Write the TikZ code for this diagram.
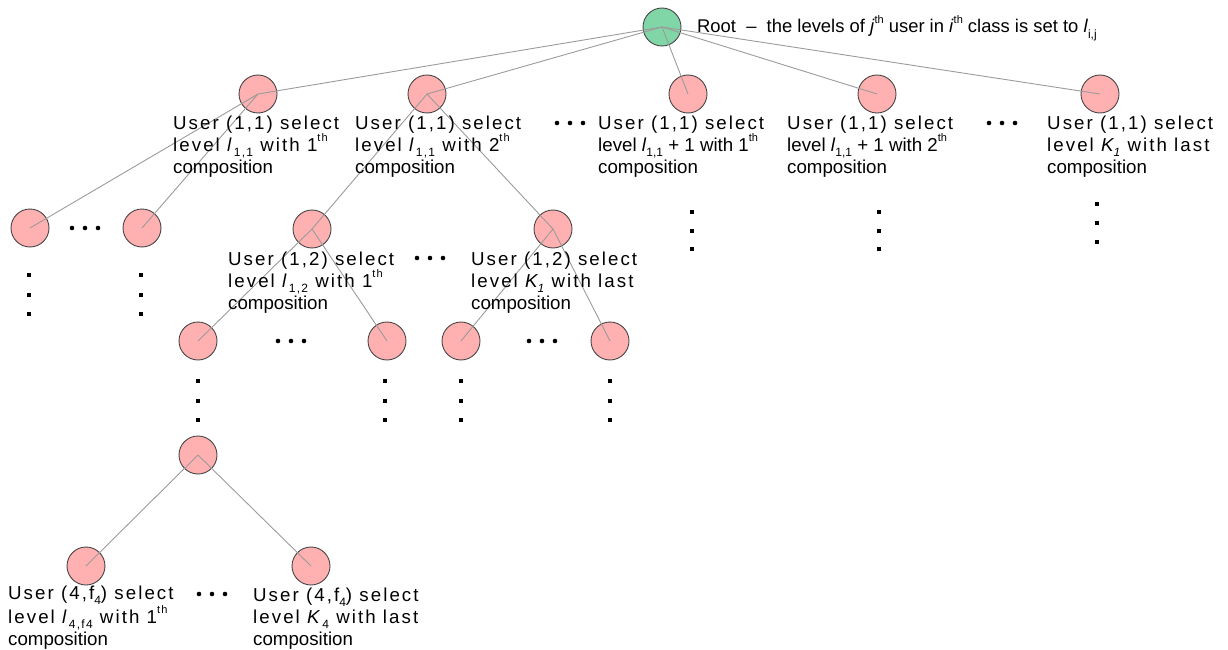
\documentclass[tikz,border=0pt]{standalone}
\usepackage{fontspec}
\setmainfont{Liberation Sans}
\newfontfamily\spaced[LetterSpace=11]{Liberation Sans}
\newcommand\sbs[1]{\raisebox{-0.28em}{\fontsize{12}{12}\selectfont #1}}
\newcommand\sps[1]{\raisebox{0.5em}{\fontsize{11}{11}\selectfont #1}}
\definecolor{pinkfill}{RGB}{255,176,176}
\definecolor{greenfill}{RGB}{128,214,166}
\definecolor{nodeline}{RGB}{70,70,70}
\definecolor{edgegray}{RGB}{155,155,155}
\tikzset{
  pnode/.style={circle,draw=nodeline,fill=pinkfill,line width=0.9pt,minimum size=38pt,inner sep=0pt},
  gnode/.style={circle,draw=nodeline,fill=greenfill,line width=0.9pt,minimum size=38pt,inner sep=0pt},
  edge/.style={draw=edgegray,line width=0.9pt},
  lbl/.style={anchor=base west,align=left,inner sep=0pt,font=\fontsize{18.7}{22}\selectfont},
}
\newcommand\hdotsat[2]{\foreach \dx in {-13,0,13}{\fill ({#1+\dx},#2) circle (2.3pt);}}
\newcommand\vdotsat[4]{\foreach \yy in {#2,#3,#4}{\fill ({#1-2},{\yy-2}) rectangle ({#1+2},{\yy+2});}}
\begin{document}
\begin{tikzpicture}[x=1pt,y=-1pt]
\useasboundingbox (0,0) rectangle (1228,650);
% nodes
\node[gnode] (root) at (662,27) {};
\node[pnode] (a1) at (258,94) {};
\node[pnode] (a2) at (427,94) {};
\node[pnode] (a3) at (688,94) {};
\node[pnode] (a4) at (877,94) {};
\node[pnode] (a5) at (1100,94) {};
\node[pnode] (b1) at (30,228) {};
\node[pnode] (b2) at (142,228) {};
\node[pnode] (c1) at (312,229) {};
\node[pnode] (c2) at (553,229) {};
\node[pnode] (d1) at (198,341) {};
\node[pnode] (d2) at (387,341) {};
\node[pnode] (d3) at (461,341) {};
\node[pnode] (d4) at (610,341) {};
\node[pnode] (e) at (198,455) {};
\node[pnode] (f1) at (86,566) {};
\node[pnode] (f2) at (311,566) {};
% edges (drawn over nodes, centre to centre)
\foreach \t in {a1,a2,a3,a4,a5}{\draw[edge] (root.center) -- (\t.center);}
\draw[edge] (a1.center) -- (b1.center);
\draw[edge] (a1.center) -- (b2.center);
\draw[edge] (a2.center) -- (c1.center);
\draw[edge] (a2.center) -- (c2.center);
\draw[edge] (c1.center) -- (d1.center);
\draw[edge] (c1.center) -- (d2.center);
\draw[edge] (c2.center) -- (d3.center);
\draw[edge] (c2.center) -- (d4.center);
\draw[edge] (e.center) -- (f1.center);
\draw[edge] (e.center) -- (f2.center);
% labels
\node[anchor=base west,inner sep=0pt,font=\fontsize{18.4}{20}\selectfont] (rootlbl) at (697,33)
  {Root\ \ --\ \ the levels of \textit{j}\sps{th} user in \textit{i}\sps{th} class is set to \textit{l}\sbs{i,j}};
\node[lbl] (la1) at (173,173) {{\spaced User (1,1) select}\\{\spaced level \textit{l}\sbs{1,1} with 1\sps{th}}\\composition};
\node[lbl] (la2) at (355,173) {{\spaced User (1,1) select}\\{\spaced level \textit{l}\sbs{1,1} with 2\sps{th}}\\composition};
\node[lbl] (la3) at (598,173) {{\spaced User (1,1) select}\\level \textit{l}\sbs{1,1} + 1 with 1\sps{th}\\composition};
\node[lbl] (la4) at (787,173) {{\spaced User (1,1) select}\\level \textit{l}\sbs{1,1} + 1 with 2\sps{th}\\composition};
\node[lbl] (la5) at (1047,173) {{\spaced User (1,1) select}\\{\spaced level \textit{K\sbs{1}} with last}\\composition};
\node[lbl] (lc1) at (228,309) {{\spaced User (1,2) select}\\{\spaced level \textit{l}\sbs{1,2} with 1\sps{th}}\\composition};
\node[lbl] (lc2) at (471,309) {{\spaced User (1,2) select}\\{\spaced level \textit{K\sbs{1}} with last}\\composition};
\node[lbl] (lf1) at (8,645) {{\spaced User (4,f\sbs{4}) select}\\{\spaced level \textit{l}\sbs{4,f4} with 1\sps{th}}\\composition};
\node[lbl] (lf2) at (253,645) {{\spaced User (4,f\sbs{4}) select}\\{\spaced level \textit{K}\sbs{4} with last}\\composition};
% ellipsis dots
\hdotsat{85}{228}
\hdotsat{570}{123}
\hdotsat{1002}{123}
\hdotsat{430}{258}
\hdotsat{291}{341}
\hdotsat{542}{341}
\hdotsat{212}{594}
\vdotsat{29}{275}{295}{314}
\vdotsat{141}{275}{295}{314}
\vdotsat{692}{212}{231}{249}
\vdotsat{879}{212}{231}{249}
\vdotsat{1097}{204}{223}{242}
\vdotsat{198}{381}{401}{420}
\vdotsat{385}{381}{401}{420}
\vdotsat{461}{381}{401}{420}
\vdotsat{610}{381}{401}{420}
\end{tikzpicture}
\end{document}
